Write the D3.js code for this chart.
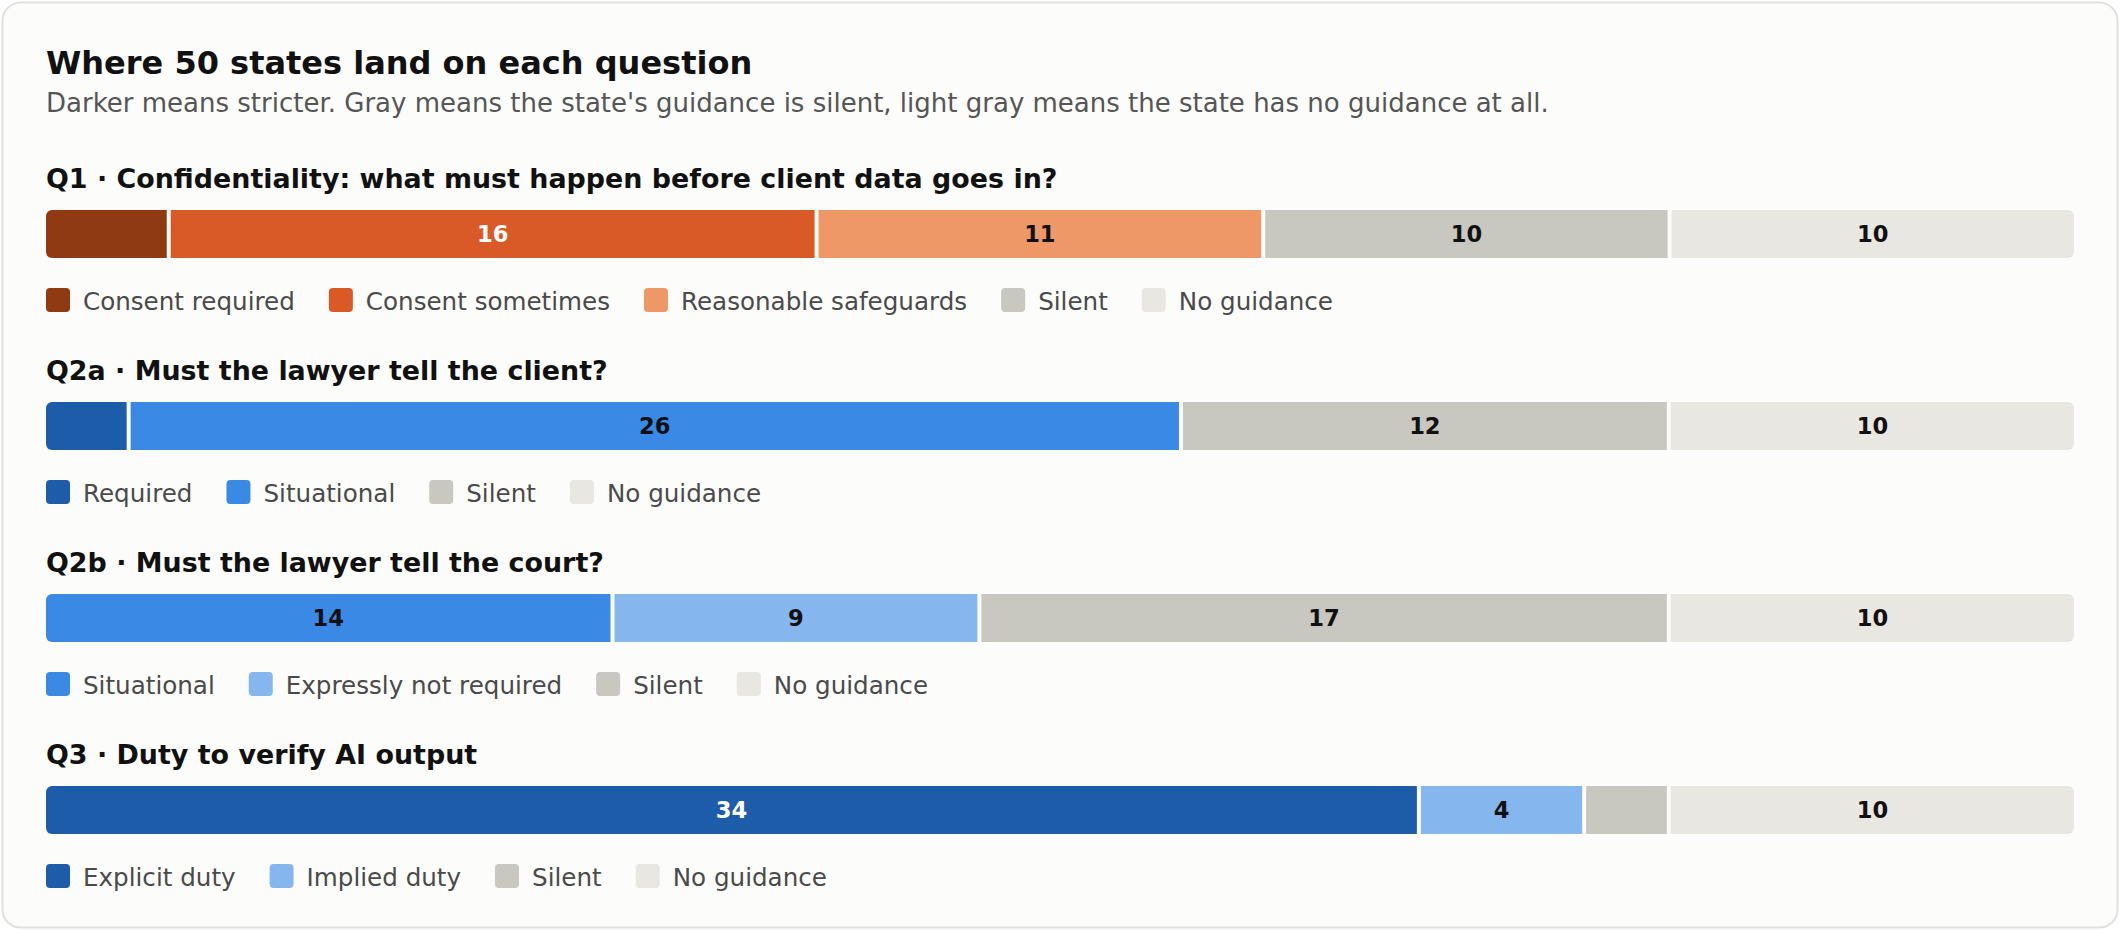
<!DOCTYPE html>
<html lang="en">
<head>
<meta charset="UTF-8">
<title>Where 50 states land on each question</title>
<style>
    body {
        margin: 0;
        background: #ffffff;
        font-family: "DejaVu Sans", sans-serif;
    }
    svg {
        display: block;
    }
    .title {
        font-size: 32px;
        font-weight: bold;
        fill: #111;
    }
    .subtitle {
        font-size: 26px;
        fill: #555;
    }
    .question {
        font-size: 26.9px;
        font-weight: bold;
        fill: #111;
    }
    .legend-label {
        font-size: 24.6px;
        fill: #4a4a4a;
    }
    .count {
        font-size: 22.6px;
        font-weight: bold;
        text-anchor: middle;
    }
</style>
<script src="https://cdn.jsdelivr.net/npm/d3@7"></script>
</head>
<body>
<svg id="chart" width="2120" height="930"></svg>

<script>
    // data
    const totalStates = 50;

    const questionTitles = [
        "Q1 · Confidentiality: what must happen before client data goes in?",
        "Q2a · Must the lawyer tell the client?",
        "Q2b · Must the lawyer tell the court?",
        "Q3 · Duty to verify AI output"
    ];

    const q1Answers = ["Consent required", "Consent sometimes", "Reasonable safeguards", "Silent", "No guidance"];
    const q1Counts = [3, 16, 11, 10, 10];

    const q2aAnswers = ["Required", "Situational", "Silent", "No guidance"];
    const q2aCounts = [2, 26, 12, 10];

    const q2bAnswers = ["Situational", "Expressly not required", "Silent", "No guidance"];
    const q2bCounts = [14, 9, 17, 10];

    const q3Answers = ["Explicit duty", "Implied duty", "Silent", "No guidance"];
    const q3Counts = [34, 4, 2, 10];

    const answerSets = [q1Answers, q2aAnswers, q2bAnswers, q3Answers];
    const countSets = [q1Counts, q2aCounts, q2bCounts, q3Counts];

    // styling
    const fillFor = {
        "Consent required": "#8f3a12",
        "Consent sometimes": "#d95a27",
        "Reasonable safeguards": "#ef9867",
        "Required": "#1d5ca9",
        "Explicit duty": "#1d5ca9",
        "Situational": "#3a89e4",
        "Expressly not required": "#86b6ee",
        "Implied duty": "#86b6ee",
        "Silent": "#c8c7c0",
        "No guidance": "#e8e7e2"
    };
    const whiteText = new Set(["Consent required", "Consent sometimes", "Required", "Explicit duty"]);

    const W = 2120, H = 930;
    const left = 46, right = 2074;
    const barHeight = 48;
    const sectionPitch = 192;
    const sectionTop = 210;   // top of the first bar
    const gap = 4;            // white gap between segments
    const minLabelWidth = 140;

    const svg = d3.select("#chart");

    // card
    svg.append("rect")
        .attr("x", 2.5).attr("y", 2.5)
        .attr("width", W - 5).attr("height", H - 5)
        .attr("rx", 18)
        .attr("fill", "#fcfcfa")
        .attr("stroke", "#e0e0dd")
        .attr("stroke-width", 2);

    svg.append("text")
        .attr("class", "title")
        .attr("x", left).attr("y", 74)
        .text("Where 50 states land on each question");

    svg.append("text")
        .attr("class", "subtitle")
        .attr("x", left).attr("y", 112)
        .text("Darker means stricter. Gray means the state's guidance is silent, light gray means the state has no guidance at all.");

    const defs = svg.append("defs");

    questionTitles.forEach((title, i) => {
        const top = sectionTop + i * sectionPitch;
        const answers = answerSets[i];
        const counts = countSets[i];
        const ends = d3.cumsum(counts);

        // segments share the bar width left after the gaps
        const x = d3.scaleLinear()
            .domain([0, totalStates])
            .range([0, right - left - gap * (answers.length - 1)]);

        const rows = answers.map((a, j) => ({
            answer: a,
            value: counts[j],
            x0: left + x(ends[j] - counts[j]) + j * gap,
            w: x(counts[j])
        }));

        const g = svg.append("g");

        g.append("text")
            .attr("class", "question")
            .attr("x", left)
            .attr("y", top - 22)
            .text(title);

        // rounded outline clip for the whole bar
        defs.append("clipPath")
            .attr("id", "clip" + i)
            .append("rect")
            .attr("x", left).attr("y", top)
            .attr("width", right - left)
            .attr("height", barHeight)
            .attr("rx", 6);

        const bar = g.append("g").attr("clip-path", `url(#clip${i})`);

        bar.selectAll("rect")
            .data(rows)
            .join("rect")
            .attr("x", d => d.x0)
            .attr("y", top)
            .attr("width", d => d.w)
            .attr("height", barHeight)
            .attr("fill", d => fillFor[d.answer]);

        g.selectAll("text.count")
            .data(rows.filter(d => d.w >= minLabelWidth))
            .join("text")
            .attr("class", "count")
            .attr("x", d => d.x0 + d.w / 2)
            .attr("y", top + barHeight / 2)
            .attr("dy", "0.36em")
            .attr("fill", d => whiteText.has(d.answer) ? "#ffffff" : "#111111")
            .text(d => d.value);

        // legend, laid out by measured text width
        const legendY = top + 90;
        let cursor = left;
        answers.forEach(a => {
            const item = g.append("g").attr("transform", `translate(${cursor},${legendY})`);
            item.append("rect")
                .attr("x", 0).attr("y", -12)
                .attr("width", 24).attr("height", 24)
                .attr("rx", 4)
                .attr("fill", fillFor[a]);
            const label = item.append("text")
                .attr("class", "legend-label")
                .attr("x", 37)
                .attr("dy", "0.4em")
                .text(a);
            cursor += 37 + label.node().getComputedTextLength() + 34;
        });
    });
</script>
</body>
</html>
